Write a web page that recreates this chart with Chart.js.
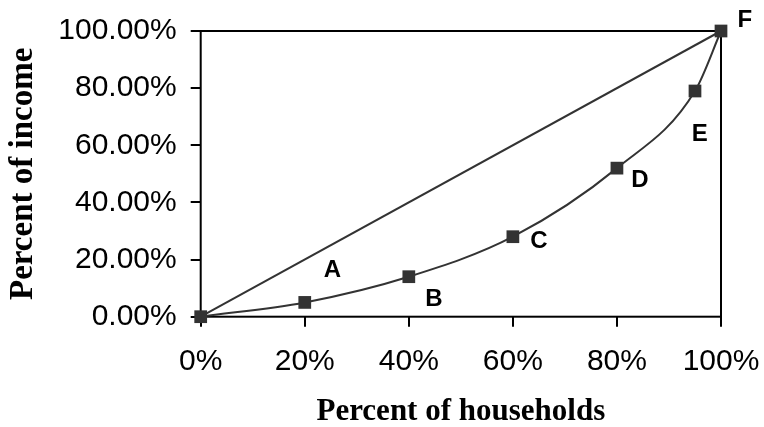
<!DOCTYPE html>
<html>
<head>
<meta charset="utf-8">
<script src="https://cdn.jsdelivr.net/npm/chart.js@4"></script>
<style>
  html, body { margin: 0; padding: 0; background: #fff; }
  #wrap { width: 764px; height: 427px; }
</style>
</head>
<body>
<div id="wrap"><canvas id="lorenz"></canvas></div>
<script>
// Lorenz curve data
const householdShares = [0, 20, 40, 60, 80, 95, 100];
const incomeShares = [0, 5, 14, 28, 52, 79, 100];
const equalityX = [0, 100];
const equalityY = [0, 100];
const xTickLabels = ['0%', '20%', '40%', '60%', '80%', '100%'];
const yTickLabels = ['0.00%', '20.00%', '40.00%', '60.00%', '80.00%', '100.00%'];
const letters = ['A', 'B', 'C', 'D', 'E', 'F'];
const letterX = [25.3, 44.8, 65, 84.4, 95.9, 104.6];
const letterY = [16.3, 6.2, 26.2, 47.8, 63.7, 103.7];

const lineColor = '#333333';

// frame round the plot area
const boxPlugin = {
  id: 'box',
  beforeDatasetsDraw(chart) {
    const a = chart.chartArea;
    const ctx = chart.ctx;
    ctx.save();
    ctx.strokeStyle = '#000';
    ctx.lineWidth = 2;
    ctx.strokeRect(a.left, a.top, a.right - a.left, a.bottom - a.top);
    ctx.restore();
  }
};

// A..F letters
const letterPlugin = {
  id: 'letters',
  afterDraw(chart) {
    const ctx = chart.ctx;
    const xs = chart.scales.x, ys = chart.scales.y;
    ctx.save();
    ctx.fillStyle = '#000';
    ctx.font = 'bold 24px "Liberation Sans", Arial, sans-serif';
    ctx.textAlign = 'center';
    ctx.textBaseline = 'middle';
    letters.forEach((l, i) => {
      ctx.fillText(l, xs.getPixelForValue(letterX[i]), ys.getPixelForValue(letterY[i]));
    });
    ctx.restore();
  }
};

const ctx = document.getElementById('lorenz').getContext('2d');
new Chart(ctx, {
  type: 'line',
  data: {
    datasets: [
      {
        label: 'Equality',
        data: equalityX.map((x, i) => ({ x: x, y: equalityY[i] })),
        borderColor: lineColor,
        borderWidth: 2,
        pointRadius: 0,
        clip: false
      },
      {
        label: 'Lorenz',
        data: householdShares.map((x, i) => ({ x: x, y: incomeShares[i] })),
        borderColor: lineColor,
        backgroundColor: lineColor,
        borderWidth: 2,
        cubicInterpolationMode: 'monotone',
        pointStyle: 'rect',
        pointRadius: 9,
        pointBorderWidth: 0,
        clip: false
      }
    ]
  },
  options: {
    responsive: true,
    maintainAspectRatio: false,
    animation: false,
    layout: { padding: { top: 31, right: 43, left: 0, bottom: 0 } },
    plugins: {
      legend: { display: false },
      tooltip: { enabled: false }
    },
    scales: {
      x: {
        type: 'linear',
        min: 0,
        max: 100,
        afterBuildTicks(scale) {
          scale.ticks = xTickLabels.map((t, i) => ({ value: i * 20 }));
        },
        afterFit(scale) {
          scale.height = 110.3;
          scale.paddingLeft = 0;
          scale.paddingRight = 0;
        },
        ticks: {
          color: '#000',
          font: { family: '"Liberation Sans", Arial, sans-serif', size: 30 },
          padding: 17,
          maxRotation: 0,
          autoSkip: false,
          callback: (v, i) => xTickLabels[i]
        },
        grid: { drawOnChartArea: false, color: '#000', lineWidth: 2, tickLength: 10 },
        border: { display: false },
        title: {
          display: true,
          text: 'Percent of households',
          color: '#000',
          font: { family: '"Liberation Serif", "Times New Roman", serif', size: 31, weight: 'bold', lineHeight: 1 },
          padding: { top: 0, bottom: 0 }
        }
      },
      y: {
        type: 'linear',
        min: 0,
        max: 100,
        afterBuildTicks(scale) {
          scale.ticks = yTickLabels.map((t, i) => ({ value: i * 20 }));
        },
        afterFit(scale) {
          scale.width = 200.7;
          scale.paddingTop = 0;
          scale.paddingBottom = 0;
        },
        ticks: {
          color: '#000',
          font: { family: '"Liberation Sans", Arial, sans-serif', size: 30 },
          padding: 14,
          autoSkip: false,
          callback: (v, i) => yTickLabels[i]
        },
        grid: { drawOnChartArea: false, color: '#000', lineWidth: 2, tickLength: 10 },
        border: { display: false },
        title: {
          display: true,
          text: 'Percent of income',
          color: '#000',
          font: { family: '"Liberation Serif", "Times New Roman", serif', size: 33, weight: 'bold', lineHeight: 1.2 },
          padding: { top: 4, bottom: 0 }
        }
      }
    }
  },
  plugins: [boxPlugin, letterPlugin]
});
</script>
</body>
</html>
